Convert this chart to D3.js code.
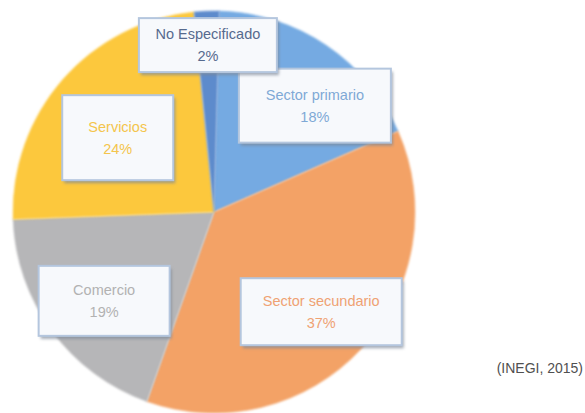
<!DOCTYPE html>
<html>
<head>
<meta charset="utf-8">
<script src="https://cdn.jsdelivr.net/npm/d3@7"></script>
<style>
  html, body { margin: 0; padding: 0; background: #ffffff; }
  svg { display: block; }
</style>
</head>
<body>
<script>
// ---- data ----
const categories = ["Sector primario", "Sector secundario", "Comercio", "Servicios", "No Especificado"];
const values = [18, 37, 19, 24, 2];
const labels = ["18%", "37%", "19%", "24%", "2%"];
const sourceNote = "(INEGI, 2015)";

// ---- style / layout ----
const W = 585, H = 413;
const cx = 214, cy = 212, R = 201;
const sliceColors = ["#75aae2", "#f3a266", "#b6b6b8", "#fcc83e", "#5d8bcc"];
const textColors = ["#7fa9d6", "#efa273", "#b2b2b2", "#f4c54c", "#566a8e"];
// label box geometry: size and offset from slice centroid (layout only)
const boxSize = [[152, 74], [161, 67], [131, 70], [111, 85], [138, 54]];
const labelRadius = 145;
const boxNudge = [[20, 14], [1, 1], [7, 3], [13, 21], [0, 0]];
const fontFam = "'Liberation Sans Narrow', 'Liberation Sans', Arial, sans-serif";

const svg = d3.select("body").append("svg").attr("width", W).attr("height", H);
const defs = svg.append("defs");
const blur = defs.append("filter").attr("id", "soft").attr("x", "-5%").attr("y", "-5%").attr("width", "110%").attr("height", "110%");
blur.append("feGaussianBlur").attr("stdDeviation", 0.8);
const sh = defs.append("filter").attr("id", "shadow").attr("x", "-10%").attr("y", "-10%").attr("width", "130%").attr("height", "130%");
sh.append("feGaussianBlur").attr("stdDeviation", 1.5);

const pie = d3.pie().sort(null).value(d => d)
  .startAngle(1.5 * Math.PI / 180).endAngle(1.5 * Math.PI / 180 + 2 * Math.PI);
const arcs = pie(values);
const arc = d3.arc().innerRadius(0).outerRadius(R);
const labelArc = d3.arc().innerRadius(labelRadius).outerRadius(labelRadius);
const outerLabelArc = d3.arc().innerRadius(167).outerRadius(167);

const g = svg.append("g").attr("transform", `translate(${cx},${cy})`);
g.selectAll("path.slice").data(arcs).join("path")
  .attr("class", "slice")
  .attr("d", arc)
  .attr("fill", (d, i) => sliceColors[i])
  .attr("stroke", (d, i) => sliceColors[i])
  .attr("stroke-width", 0.5)
  .attr("filter", "url(#soft)");

// label boxes
const lab = g.selectAll("g.lab").data(arcs).join("g").attr("class", "lab")
  .attr("transform", (d, i) => {
    const [x, y] = (i === 4 ? outerLabelArc : labelArc).centroid(d);
    return `translate(${x + boxNudge[i][0]},${y + boxNudge[i][1]})`;
  });

lab.append("rect")
  .attr("x", (d, i) => -boxSize[i][0] / 2 + 2)
  .attr("y", (d, i) => -boxSize[i][1] / 2 + 3)
  .attr("width", (d, i) => boxSize[i][0])
  .attr("height", (d, i) => boxSize[i][1])
  .attr("fill", "#7d8796").attr("opacity", 0.7)
  .attr("filter", "url(#shadow)");
lab.append("rect")
  .attr("x", (d, i) => -boxSize[i][0] / 2)
  .attr("y", (d, i) => -boxSize[i][1] / 2)
  .attr("width", (d, i) => boxSize[i][0])
  .attr("height", (d, i) => boxSize[i][1])
  .attr("fill", "#f7f9fc")
  .attr("stroke", "#b4c6de")
  .attr("stroke-width", 2);

lab.append("text")
  .attr("text-anchor", "middle")
  .attr("y", -6)
  .attr("font-family", fontFam)
  .attr("font-size", 14.5)
  .attr("fill", (d, i) => textColors[i])
  .text((d, i) => categories[i]);
lab.append("text")
  .attr("text-anchor", "middle")
  .attr("y", 16)
  .attr("font-family", fontFam)
  .attr("font-size", 14.5)
  .attr("fill", (d, i) => textColors[i])
  .text((d, i) => labels[i]);

svg.append("text")
  .attr("x", 583).attr("y", 373)
  .attr("text-anchor", "end")
  .attr("font-family", fontFam)
  .attr("font-size", 14)
  .attr("fill", "#505050")
  .text(sourceNote);
</script>
</body>
</html>
